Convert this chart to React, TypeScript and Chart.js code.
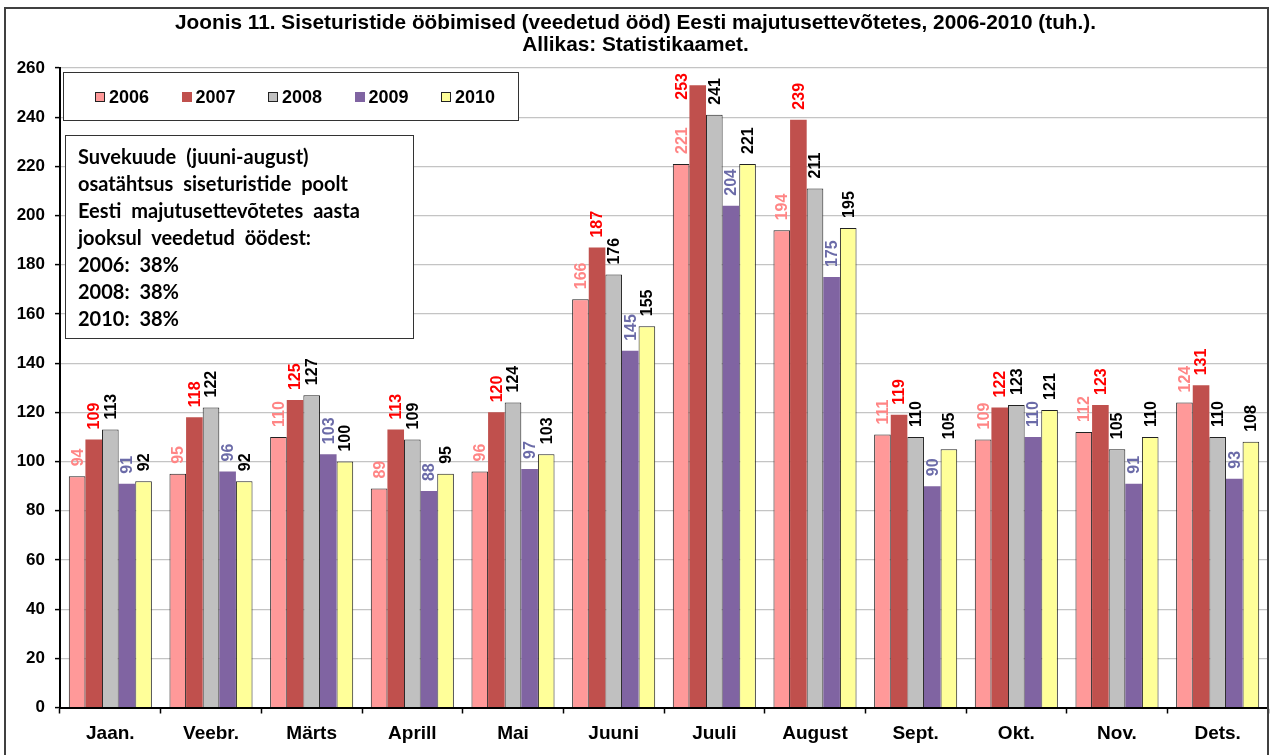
import React, { useEffect, useRef } from "react";
import { Chart, registerables } from "chart.js";

Chart.register(...registerables);

const categories = ["Jaan.", "Veebr.", "Märts", "Aprill", "Mai", "Juuni", "Juuli", "August", "Sept.", "Okt.", "Nov.", "Dets."];
const years = ["2006", "2007", "2008", "2009", "2010"];
const v2006 = [94, 95, 110, 89, 96, 166, 221, 194, 111, 109, 112, 124];
const v2007 = [109, 118, 125, 113, 120, 187, 253, 239, 119, 122, 123, 131];
const v2008 = [113, 122, 127, 109, 124, 176, 241, 211, 110, 123, 105, 110];
const v2009 = [91, 96, 103, 88, 97, 145, 204, 175, 90, 110, 91, 93];
const v2010 = [92, 92, 100, 95, 103, 155, 221, 195, 105, 121, 110, 108];
const seriesValues = [v2006, v2007, v2008, v2009, v2010];
const yTicks = [0, 20, 40, 60, 80, 100, 120, 140, 160, 180, 200, 220, 240, 260];

const titleLines = [
  "Joonis 11. Siseturistide ööbimised (veedetud ööd) Eesti majutusettevõtetes, 2006-2010 (tuh.).",
  "Allikas: Statistikaamet.",
];
const noteLines = [
  "Suvekuude (juuni-august)",
  "osatähtsus siseturistide poolt",
  "Eesti majutusettevõtetes aasta",
  "jooksul veedetud öödest:",
  "2006: 38%",
  "2008: 38%",
  "2010: 38%",
];

const fillColors = ["#FF9999", "#C0504D", "#C0C0C0", "#8064A2", "#FFFF99"];
const borderColors = ["#222222", "#C0504D", "#222222", "#8064A2", "#222222"];
const borderWidths = [1, 0, 1, 0, 1];
const labelColors = ["#FF8585", "#FF0000", "#000000", "#6B6BA8", "#000000"];

const ARIAL = "'Liberation Sans', Arial, sans-serif";

const labelPlugin = {
  id: "barLabels",
  afterDatasetsDraw(chart: any) {
    const ctx = chart.ctx;
    const area = chart.chartArea;
    ctx.save();
    ctx.font = `bold 16px ${ARIAL}`;
    chart.data.datasets.forEach((ds: any, di: number) => {
      const meta = chart.getDatasetMeta(di);
      meta.data.forEach((el: any, i: number) => {
        const text = String(ds.data[i]);
        const w = ctx.measureText(text).width;
        let x = el.x;
        let y = el.y - 10;
        if (y - w < area.top + 5) {
          y = area.top + 5 + w;
          x = el.x - el.width;
        }
        ctx.save();
        ctx.translate(x, y);
        ctx.rotate(-Math.PI / 2);
        ctx.fillStyle = labelColors[di];
        ctx.textAlign = "left";
        ctx.textBaseline = "middle";
        ctx.fillText(text, 0, 1);
        ctx.restore();
      });
    });
    ctx.restore();
  },
};

export default function App() {
  const canvasRef = useRef<HTMLCanvasElement | null>(null);

  useEffect(() => {
    const canvas = canvasRef.current;
    if (!canvas) return;
    const chart = new Chart(canvas, {
      type: "bar",
      data: {
        labels: categories,
        datasets: years.map((y, i) => ({
          label: y,
          data: seriesValues[i],
          backgroundColor: fillColors[i],
          borderColor: borderColors[i],
          borderWidth: borderWidths[i],
          categoryPercentage: 0.825,
          barPercentage: 1.0,
        })),
      },
      options: {
        animation: false,
        responsive: false,
        maintainAspectRatio: false,
        layout: { padding: { left: 0, right: 3, top: 68, bottom: 0 } },
        plugins: {
          legend: { display: false },
          title: { display: false },
          tooltip: { enabled: false },
        },
        scales: {
          x: {
            afterFit: (scale: any) => {
              scale.height = 47.5;
            },
            grid: {
              display: true,
              drawOnChartArea: false,
              offset: true,
              tickLength: 6,
              tickColor: "#000000",
              tickWidth: 1.5,
            },
            border: { display: true, color: "#000000", width: 2 },
            ticks: {
              color: "#000000",
              font: { family: ARIAL, size: 19, weight: "bold" },
              padding: 9,
              maxRotation: 0,
              autoSkip: false,
            },
          },
          y: {
            min: 0,
            max: 260,
            afterFit: (scale: any) => {
              scale.width = 60;
            },
            afterBuildTicks: (scale: any) => {
              scale.ticks = yTicks.map((v) => ({ value: v }));
            },
            grid: {
              color: "#C4C4C4",
              lineWidth: 1.2,
              tickLength: 5,
              tickColor: "#000000",
              tickWidth: 1.5,
            },
            border: { display: true, color: "#000000", width: 2 },
            ticks: {
              color: "#000000",
              font: { family: ARIAL, size: 17, weight: "bold" },
              padding: 10,
            },
          },
        },
      },
      plugins: [labelPlugin],
    });
    return () => chart.destroy();
  }, []);

  return (
    <div
      style={{
        position: "fixed",
        left: 0,
        top: 0,
        width: 1271,
        height: 755,
        background: "#ffffff",
        overflow: "hidden",
      }}
    >
      <canvas ref={canvasRef} width={1271} height={755} style={{ position: "absolute", left: 0, top: 0 }} />
      <div
        style={{
          position: "absolute",
          left: 4,
          top: 7,
          width: 1261,
          height: 800,
          border: "2px solid #404040",
          pointerEvents: "none",
        }}
      />
      {titleLines.map((t, i) => (
        <div
          key={t}
          style={{
            position: "absolute",
            left: 0,
            width: 1271,
            top: 11 + i * 22,
            textAlign: "center",
            fontFamily: ARIAL,
            fontWeight: "bold",
            fontSize: 20.8,
            lineHeight: "22px",
            color: "#000",
          }}
        >
          {t}
        </div>
      ))}
      <div
        style={{
          position: "absolute",
          left: 63,
          top: 72,
          width: 454,
          height: 47,
          border: "1.5px solid #333333",
          background: "#ffffff",
        }}
      >
        {years.map((y, i) => (
          <div
            key={y}
            style={{
              position: "absolute",
              left: 31 + i * 86.5,
              top: 13,
              height: 22,
              display: "flex",
              alignItems: "center",
              fontFamily: ARIAL,
              fontWeight: "bold",
              fontSize: 18,
              color: "#000",
            }}
          >
            <span
              style={{
                display: "inline-block",
                width: borderWidths[i] ? 8 : 10,
                height: borderWidths[i] ? 8 : 10,
                background: fillColors[i],
                border: borderWidths[i] ? "1px solid #222" : "none",
                marginRight: 4,
              }}
            />
            {y}
          </div>
        ))}
      </div>
      <div
        style={{
          position: "absolute",
          left: 65,
          top: 135,
          width: 349,
          height: 204,
          border: "1.5px solid #333333",
          background: "#ffffff",
          boxSizing: "border-box",
        }}
      >
        {noteLines.map((t, i) => (
          <div
            key={t}
            style={{
              position: "absolute",
              left: 12,
              top: 7 + i * 27,
              fontFamily: "Lato, 'Open Sans', sans-serif",
              fontWeight: "bold",
              fontSize: 20,
              lineHeight: "26px",
              whiteSpace: "pre",
              wordSpacing: 5,
              color: "#000",
            }}
          >
            {t}
          </div>
        ))}
      </div>
    </div>
  );
}
